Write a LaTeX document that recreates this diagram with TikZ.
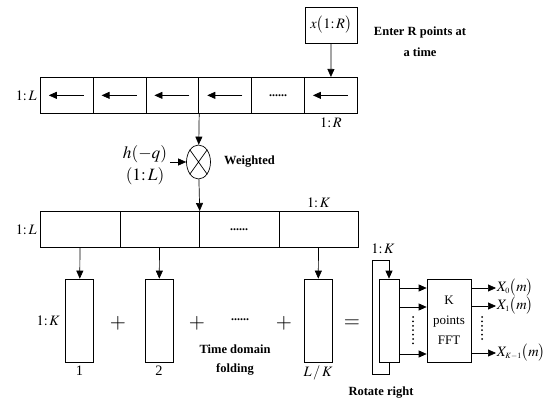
\documentclass[tikz,border=0pt,12pt]{standalone}
\usepackage{mathptmx}
\usepackage{fontspec}
\setmainfont{Liberation Serif}
\usetikzlibrary{arrows.meta,shapes.geometric}

\begin{document}
\begin{tikzpicture}[x=1pt,y=-1pt,line width=0.7pt,
    arr/.style={-{Triangle[length=8pt,width=7pt]}},
    cell/.style={draw, minimum width=#1, minimum height=36pt, inner sep=0pt, anchor=north west},
    col/.style={draw, minimum width=#1, minimum height=83pt, inner sep=0pt},
    vdots/.style={line width=2pt, line cap=round, dash pattern=on 0pt off 4.4pt},
    mth/.style={font=\large, inner sep=1pt},
    lbl/.style={font=\fontsize{12.5}{19}\bfseries, align=center}]
    \useasboundingbox (0,0) rectangle (545,403);
    % input buffer, shifted left R points at a time
    \node[draw, minimum width=52pt, minimum height=36pt, font=\large] (xin) at (331,25) {$x\bigl(1{:}\,R\bigr)$};
    \node[lbl, font=\fontsize{12.5}{21}\bfseries] (enter) at (420,42) {Enter R points at\\a time};
    \foreach \i in {1,...,6}
        \node[cell=52.83pt] (r\i) at ({40+(\i-1)*52.83},77) {};
    \node at (r5) {\textbf{......}};
    \foreach \i in {1,2,3,4,6}
        \draw[arr] ([xshift=17pt]r\i.center) -- ([xshift=-18pt]r\i.center);
    \draw[arr] (xin) -- (r6);
    \node[mth, left=2pt] (lenL) at (r1.west) {$1{:}\,L$};
    \node[mth, below=3pt] (lenR) at (r6.south) {$1{:}\,R$};
    % weighting
    \node[draw, ellipse, minimum width=24pt, minimum height=34pt, inner sep=0pt] (mul) at (198.5,162) {};
    \draw (mul.north west) -- (mul.south east) (mul.north east) -- (mul.south west);
    \draw[arr] (r3.south east) -- (mul);
    \node[mth, inner sep=0pt, font=\Large] (wq) at (145,154) {$h(-q)$};
    \node[mth, inner sep=0pt, font=\Large] (wlen) at (145,176) {$(1{:}\,L)$};
    \draw[arr] ([xshift=3pt]wq.east |- mul) -- (mul);
    \node[lbl, right=9pt] (wtd) at (mul.east) {Weighted};
    % weighted buffer, split in L/K blocks
    \foreach \i in {1,...,4}
        \node[cell=79.5pt] (w\i) at ({40+(\i-1)*79.5},211) {};
    \node at (w3) {\textbf{......}};
    \draw[arr] (mul) -- (w2.north east);
    \node[mth, left=2pt] (lenL2) at (w1.west) {$1{:}\,L$};
    \node[mth, above=2pt] (lenK) at (w4.north) {$1{:}\,K$};
    % time domain folding
    \node[col=28pt] (c1) at (79.5,320.5) {};
    \node[col=28pt] (c2) at (159,320.5) {};
    \node[col=28pt] (c3) at (318,320.5) {};
    \draw[arr] (w1) -- (c1);
    \draw[arr] (w2) -- (c2);
    \draw[arr] (w4) -- (c3);
    \node[mth, left=4pt] (lenK2) at (c1.west) {$1{:}\,K$};
    \node[mth, below=2pt] (n1) at (c1.south) {1};
    \node[mth, below=2pt] (n2) at (c2.south) {2};
    \node[mth, below=2pt] (n3) at (c3.south) {$L\,/\,K$};
    \node (p1) at (118,323) {\LARGE $+$};
    \node (p2) at (197,323) {\LARGE $+$};
    \node (dots) at (240,320) {\textbf{......}};
    \node (p3) at (284,323) {\LARGE $+$};
    \node (eq) at (352,324) {\LARGE $=$};
    \node[lbl] (fold) at (235,360) {Time domain\\folding};
    % rotate right and FFT
    \node[col=20pt] (rot) at (389,320.5) {};
    \draw[arr] (rot.south) -- ++(0,12) -| (372,260) -- (389,260) -- (rot.north);
    \node[mth] (lenK3) at (383,249) {$1{:}\,K$};
    \node[lbl] (rotr) at (381,393) {Rotate right};
    \node[col=44pt, align=center, font=\fontsize{13}{20}\selectfont] (fft) at (449,320.5) {K\\points\\FFT};
    \foreach \dy in {32.5,13.5,-33.5}
        \draw[arr] ([yshift=\dy pt]rot.east) -- ([yshift=\dy pt]fft.west);
    \draw[vdots] (413,317) -- (413,346);
    \node[mth, anchor=west, inner sep=0.5pt] (o0) at (496,288) {$X_{\scriptscriptstyle 0}\bigl(m\bigr)$};
    \node[mth, anchor=west, inner sep=0.5pt] (o1) at (496,306) {$X_{\scriptscriptstyle 1}\bigl(m\bigr)$};
    \node[mth, anchor=west, inner sep=0.5pt] (o2) at (496,353) {$X_{\scriptscriptstyle K-1}\bigl(m\bigr)$};
    \draw[arr] ([yshift=32.5pt]fft.east) -- (o0.west);
    \draw[arr] ([yshift=14.5pt]fft.east) -- (o1.west);
    \draw[arr] ([yshift=-32.5pt]fft.east) -- (o2.west);
    \draw[vdots] (482,317) -- (482,342);
\end{tikzpicture}
\end{document}
